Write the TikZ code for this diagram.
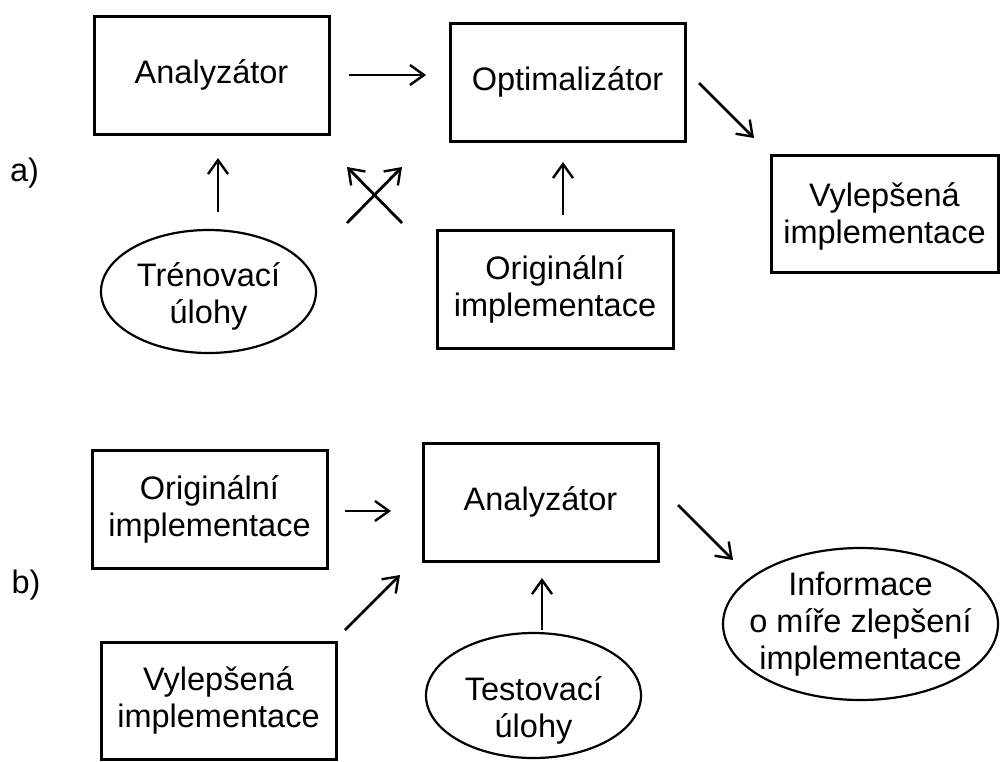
\documentclass[tikz,border=0pt]{standalone}
\usepackage{fontspec}
\setmainfont{Liberation Sans}
\usetikzlibrary{arrows.meta,shapes.geometric}
\begin{document}
\begin{tikzpicture}[x=1pt,y=-1pt,
  txt/.style={font=\fontsize{32.5}{37}\selectfont, align=center},
  box/.style={txt, draw, line width=3pt, rectangle, minimum width=235pt, minimum height=118pt, inner sep=0pt},
  oval/.style={txt, draw, line width=2.2pt, ellipse, inner sep=0pt},
  lbl/.style={font=\fontsize{32.5}{36}\selectfont, inner sep=0pt},
  arr/.style={line width=2.4pt, -{Straight Barb[length=14pt,width=20pt,line width=2.4pt]}},
  darr/.style={arr, line width=2.8pt}]
\useasboundingbox (0,0) rectangle (1000,761);
% ---- part a ----
\node[lbl] (la) at (24.5,173) {a)};
\node[box] (an1) at (211.5,75) {Analyzátor};
\node[box] (opt) at (567.5,82) {Optimalizátor};
\node[box, minimum width=227pt, minimum height=117pt] (vyl1) at (884.5,213.5) {\rule{0pt}{30pt}Vylepšená\\implementace};
\node[oval, minimum width=215pt, minimum height=123pt, inner ysep=-4pt] (tren) at (208.5,291.5) {\rule{0pt}{34pt}Trénovací\\úlohy};
\node[box, minimum width=236pt] (orig1) at (555,289) {Originální\\implementace};
\coordinate (a1s) at (349,75);  \coordinate (a1e) at (426,75);
\coordinate (a2s) at (218,212); \coordinate (a2e) at (218,158);
\coordinate (a3s) at (347,223); \coordinate (a3e) at (402,167);
\coordinate (a4s) at (402,223); \coordinate (a4e) at (347,167);
\coordinate (a5s) at (563,215); \coordinate (a5e) at (563,162);
\coordinate (a6s) at (699,83);  \coordinate (a6e) at (754,138);
\draw[arr] (a1s) -- (a1e);
\draw[arr] (a2s) -- (a2e);
\draw[darr] (a3s) -- (a3e);
\draw[darr] (a4s) -- (a4e);
\draw[arr] (a5s) -- (a5e);
\draw[darr] (a6s) -- (a6e);
% ---- part b ----
\node[lbl] (lb) at (26,585) {b)};
\node[box] (orig2) at (209.5,509) {Originální\\implementace};
\node[box] (an2) at (540.5,502) {Analyzátor};
\node[oval, minimum width=275pt, minimum height=152pt, inner xsep=-18pt, inner ysep=-6pt] (info) at (860.5,624) {Informace\\o míře zlepšení\\implementace};
\node[box, minimum height=117pt] (vyl2) at (218.5,700.5) {Vylepšená\\implementace};
\node[oval, minimum width=215pt, minimum height=125pt, inner ysep=-10pt] (test) at (533.5,695.5) {\rule{0pt}{53pt}Testovací\\úlohy};
\coordinate (b1s) at (345,511); \coordinate (b1e) at (391,511);
\coordinate (b2s) at (345,630); \coordinate (b2e) at (400,575);
\coordinate (b3s) at (542,630); \coordinate (b3e) at (542,578);
\coordinate (b4s) at (678,505); \coordinate (b4e) at (733,560);
\draw[arr] (b1s) -- (b1e);
\draw[darr] (b2s) -- (b2e);
\draw[arr] (b3s) -- (b3e);
\draw[darr] (b4s) -- (b4e);
\end{tikzpicture}
\end{document}
